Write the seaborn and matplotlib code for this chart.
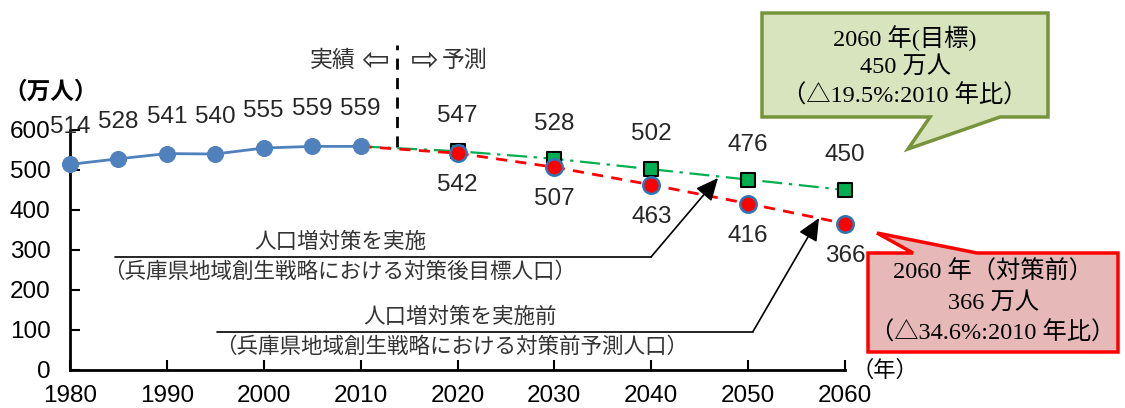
import matplotlib
matplotlib.use("Agg")
import matplotlib.pyplot as plt
from matplotlib.patches import Polygon
from matplotlib.lines import Line2D
import seaborn as sns

# Hyogo prefecture population (10,000 persons)
actual_years = [1980, 1985, 1990, 1995, 2000, 2005, 2010]
actual_pop = [514, 528, 541, 540, 555, 559, 559]
proj_years = [2020, 2030, 2040, 2050, 2060]
target_pop = [547, 528, 502, 476, 450]      # with population measures (target)
baseline_pop = [542, 507, 463, 416, 366]    # without measures (projection)
x_ticks = [1980, 1990, 2000, 2010, 2020, 2030, 2040, 2050, 2060]
y_ticks = [0, 100, 200, 300, 400, 500, 600]

sns.set_theme(style="white")
plt.rcParams["font.family"] = ["Liberation Sans", "Noto Sans CJK JP"]

W, H = 1125, 408
fig = plt.figure(figsize=(W / 100, H / 100), dpi=100)
ax = fig.add_axes([70 / W, 38 / H, 775 / W, 240 / H])


def P(px, py):
    """Pixel position on the canvas (origin top-left) -> figure fraction."""
    return (px / W, 1 - py / H)


BLUE = "#4f81bd"
GREEN = "#00b050"
RED = "#ff0000"
NUM_SIZE = 17.5

# projection lines start from the last observed value
sns.lineplot(x=[actual_years[-1]] + proj_years, y=[actual_pop[-1]] + target_pop,
             color=GREEN, lw=1.6, linestyle=(0, (9, 3, 1.5, 3)), ax=ax, zorder=2)
sns.lineplot(x=[actual_years[-1]] + proj_years, y=[actual_pop[-1]] + baseline_pop,
             color=RED, lw=2, linestyle=(0, (4, 3)), ax=ax, zorder=3)

sns.scatterplot(x=proj_years, y=target_pop, marker="s", s=115, color=GREEN,
                edgecolor="black", linewidth=1.5, ax=ax, zorder=4, clip_on=False)
sns.scatterplot(x=proj_years, y=baseline_pop, marker="o", s=140, color=RED,
                edgecolor="#2e75b6", linewidth=1.8, ax=ax, zorder=5, clip_on=False)

sns.lineplot(x=actual_years, y=actual_pop, color=BLUE, lw=2, marker="o",
             markersize=11.5, markeredgecolor=BLUE, ax=ax, zorder=6, clip_on=False)

# value labels
for x, v in zip(actual_years, actual_pop):
    ax.annotate(str(v), (x, v), xytext=(0, 37), textcoords="offset pixels",
                ha="center", va="center", fontsize=NUM_SIZE, annotation_clip=False, zorder=7)
for x, v in zip(proj_years, target_pop):
    ax.annotate(str(v), (x, v), xytext=(0, 35), textcoords="offset pixels",
                ha="center", va="center", fontsize=NUM_SIZE, annotation_clip=False, zorder=7)
for x, v in zip(proj_years, baseline_pop):
    ax.annotate(str(v), (x, v), xytext=(0, -32), textcoords="offset pixels",
                ha="center", va="center", fontsize=NUM_SIZE, annotation_clip=False, zorder=7)

# axes styling
ax.set_xlim(1980, 2060)
ax.set_ylim(0, 600)
ax.set_xticks(x_ticks)
ax.set_yticks(y_ticks)
ax.set_xlabel("")
ax.set_ylabel("")
for side in ("top", "right"):
    ax.spines[side].set_visible(False)
for side in ("left", "bottom"):
    ax.spines[side].set_color("black")
    ax.spines[side].set_linewidth(2)
ax.tick_params(axis="both", which="both", direction="in", length=7, width=1.5,
               colors="black", labelsize=NUM_SIZE, bottom=True, left=True)
ax.tick_params(axis="y", pad=14)
ax.tick_params(axis="x", pad=11)
ax.set_facecolor("white")

# boundary between observed and projected
ax.plot([2013.75, 2013.75], [557, 812], color="black", lw=2,
        linestyle=(0, (4, 3)), clip_on=False, zorder=1)
fig.text(*P(356, 60), "実績", ha="right", va="center", fontsize=16.5,
         color="#333333", family=["Noto Sans CJK JP"])
fig.text(*P(375, 60), "⇦", ha="center", va="center", fontsize=24,
         color="#333333", family=["DejaVu Sans"])
fig.text(*P(425, 60), "⇨", ha="center", va="center", fontsize=24,
         color="#333333", family=["DejaVu Sans"])
fig.text(*P(442, 60), "予測", ha="left", va="center", fontsize=16.5,
         color="#333333", family=["Noto Sans CJK JP"])

# unit labels
fig.text(*P(51, 92), "（万人）", ha="center", va="center", fontsize=17,
         color="black", family=["Noto Sans CJK JP"], weight="bold")
fig.text(*P(885, 370), "（年）", ha="center", va="center", fontsize=16,
         color="black", family=["Noto Sans CJK JP"])

# leader notes with arrows
NOTE_FAM = ["Noto Sans CJK JP"]
notes = [
    dict(title="人口増対策を実施", sub="（兵庫県地域創生戦略における対策後目標人口）",
         x0=115, x1=651, y=257, tcx=340, scx=340, tip=(718, 178)),
    dict(title="人口増対策を実施前", sub="（兵庫県地域創生戦略における対策前予測人口）",
         x0=217, x1=753, y=331.5, tcx=460, scx=452, tip=(819, 218)),
]
for n in notes:
    fig.add_artist(Line2D([n["x0"] / W, n["x1"] / W], [1 - n["y"] / H] * 2,
                          color="black", lw=1.2, transform=fig.transFigure))
    fig.text(*P(n["tcx"], n["y"] - 15), n["title"], ha="center", va="center",
             fontsize=15.5, color="#333333", family=NOTE_FAM)
    fig.text(*P(n["scx"], n["y"] + 15), n["sub"], ha="center", va="center",
             fontsize=15.5, color="#333333", family=NOTE_FAM)
    ax.annotate("", xy=P(*n["tip"]), xycoords="figure fraction",
                xytext=P(n["x1"], n["y"]), textcoords="figure fraction",
                arrowprops=dict(arrowstyle="-|>,head_length=0.55,head_width=0.25",
                                color="black", lw=1.2, mutation_scale=25,
                                shrinkA=0, shrinkB=0),
                annotation_clip=False)

# speech-bubble callouts
CALLOUT_FAM = ["Liberation Serif", "Noto Sans CJK JP"]
green_box = [(762, 13), (1048, 13), (1048, 117), (1000, 117), (908, 149),
             (930, 117), (762, 117)]
fig.add_artist(Polygon([P(*p) for p in green_box], closed=True, facecolor="#d7e4bd",
                       edgecolor="#77933c", lw=2.5, transform=fig.transFigure, zorder=8))
for i, line in enumerate(["2060 年(目標)", "450 万人", "（△19.5%:2010 年比）"]):
    fig.text(*P(905, 38 + 29 * i), line, ha="center", va="center", fontsize=17.5,
             color="black", family=CALLOUT_FAM, zorder=9)

red_box = [(868, 253), (913, 253), (877, 233), (977, 253), (1118, 253),
           (1118, 352), (868, 352)]
fig.add_artist(Polygon([P(*p) for p in red_box], closed=True, facecolor="#e6b9b8",
                       edgecolor=RED, lw=2.5, transform=fig.transFigure, zorder=8))
for i, line in enumerate(["2060 年（対策前）", "366 万人", "（△34.6%:2010 年比）"]):
    fig.text(*P(993, 272 + 30.5 * i), line, ha="center", va="center", fontsize=17.5,
             color="black", family=CALLOUT_FAM, zorder=9)

fig.savefig("out.png", dpi=100, facecolor="white")
